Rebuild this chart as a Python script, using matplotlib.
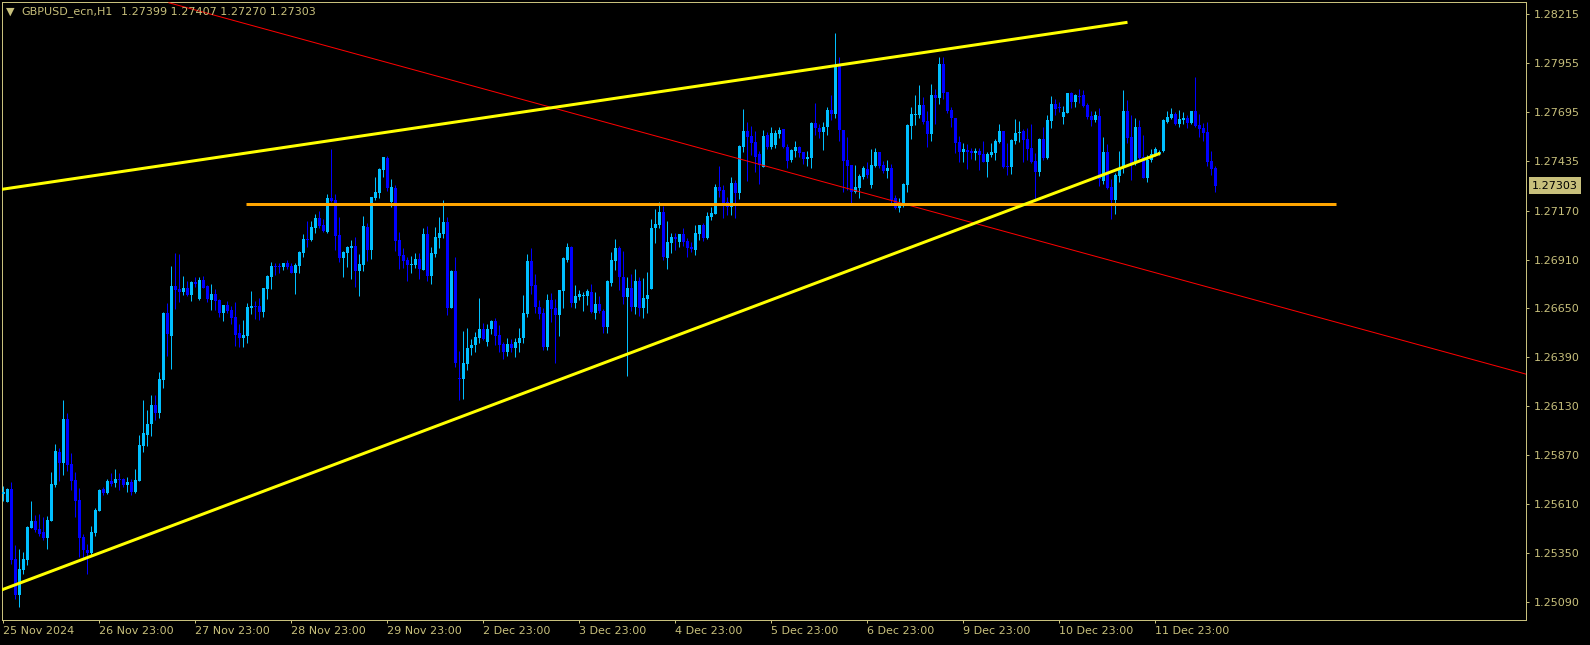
import numpy as np
import matplotlib
matplotlib.use("Agg")
import matplotlib.pyplot as plt
import matplotlib.transforms as mtransforms

# hourly GBPUSD bars, oldest first
opens = [
    1.25660, 1.25621, 1.25688, 1.25314, 1.25124, 1.25257, 1.25310, 1.25482, 1.25518, 1.25475,
    1.25459, 1.25429, 1.25518, 1.25709, 1.25887, 1.25828, 1.26061, 1.25821, 1.25736, 1.25630,
    1.25431, 1.25367, 1.25351, 1.25456, 1.25573, 1.25688, 1.25669, 1.25731, 1.25720, 1.25741,
    1.25741, 1.25709, 1.25727, 1.25672, 1.25733, 1.25919, 1.25976, 1.26034, 1.26135, 1.26094,
    1.26268, 1.26623, 1.26502, 1.26769, 1.26751, 1.26737, 1.26756, 1.26721, 1.26792, 1.26699,
    1.26800, 1.26769, 1.26694, 1.26726, 1.26694, 1.26627, 1.26667, 1.26641, 1.26602, 1.26517,
    1.26494, 1.26502, 1.26653, 1.26662, 1.26662, 1.26632, 1.26753, 1.26818, 1.26875, 1.26875,
    1.26871, 1.26894, 1.26875, 1.26839, 1.26877, 1.26946, 1.27020, 1.27013, 1.27079, 1.27130,
    1.27093, 1.27056, 1.27235, 1.27226, 1.27038, 1.26919, 1.26946, 1.26973, 1.26981, 1.26848,
    1.26880, 1.27081, 1.26960, 1.27239, 1.27265, 1.27386, 1.27452, 1.27216, 1.27288, 1.27013,
    1.26932, 1.26907, 1.26880, 1.26880, 1.26912, 1.26854, 1.27045, 1.26822, 1.26939, 1.27024,
    1.27045, 1.27109, 1.26653, 1.26848, 1.26282, 1.26274, 1.26355, 1.26440, 1.26453, 1.26494,
    1.26540, 1.26472, 1.26538, 1.26582, 1.26506, 1.26460, 1.26417, 1.26463, 1.26440, 1.26467,
    1.26494, 1.26620, 1.26902, 1.26772, 1.26659, 1.26623, 1.26446, 1.26694, 1.26653, 1.26614,
    1.26744, 1.26907, 1.26978, 1.26676, 1.26712, 1.26717, 1.26715, 1.26738, 1.26628, 1.26673,
    1.26637, 1.26552, 1.26786, 1.26903, 1.26971, 1.26818, 1.26712, 1.26760, 1.26659, 1.26795,
    1.26653, 1.26699, 1.26753, 1.27079, 1.27095, 1.27162, 1.26919, 1.26999, 1.27028, 1.27004,
    1.27045, 1.27008, 1.26978, 1.26960, 1.27045, 1.27091, 1.27026, 1.27138, 1.27152, 1.27294,
    1.27279, 1.27217, 1.27191, 1.27315, 1.27264, 1.27510, 1.27593, 1.27567, 1.27535, 1.27469,
    1.27404, 1.27572, 1.27510, 1.27519, 1.27577, 1.27604, 1.27510, 1.27439, 1.27487, 1.27510,
    1.27482, 1.27444, 1.27451, 1.27638, 1.27609, 1.27586, 1.27616, 1.27705, 1.27682, 1.27945,
    1.27599, 1.27439, 1.27412, 1.27271, 1.27292, 1.27350, 1.27391, 1.27306, 1.27407, 1.27483,
    1.27412, 1.27382, 1.27398, 1.27235, 1.27182, 1.27200, 1.27306, 1.27620, 1.27679, 1.27679,
    1.27732, 1.27647, 1.27578, 1.27785, 1.27771, 1.27950, 1.27801, 1.27705, 1.27664, 1.27535,
    1.27483, 1.27492, 1.27489, 1.27478, 1.27487, 1.27471, 1.27430, 1.27466, 1.27478, 1.27537,
    1.27595, 1.27409, 1.27404, 1.27542, 1.27581, 1.27593, 1.27549, 1.27501, 1.27434, 1.27375,
    1.27551, 1.27448, 1.27648, 1.27737, 1.27719, 1.27670, 1.27691, 1.27796, 1.27750, 1.27780,
    1.27785, 1.27732, 1.27675, 1.27652, 1.27673, 1.27327, 1.27480, 1.27297, 1.27226, 1.27354,
    1.27395, 1.27700, 1.27562, 1.27421, 1.27615, 1.27455, 1.27345, 1.27439, 1.27466, 1.27473,
    1.27487, 1.27643, 1.27664, 1.27684, 1.27631, 1.27652, 1.27664, 1.27634, 1.27700, 1.27625,
    1.27608, 1.27588, 1.27434, 1.27399,
]
highs = [
    1.25704, 1.25692, 1.25724, 1.25390, 1.25369, 1.25353, 1.25493, 1.25624, 1.25550, 1.25555,
    1.25539, 1.25544, 1.25779, 1.25928, 1.25908, 1.26162, 1.26093, 1.25878, 1.25777, 1.25692,
    1.25452, 1.25399, 1.25491, 1.25589, 1.25688, 1.25697, 1.25740, 1.25772, 1.25795, 1.25772,
    1.25745, 1.25752, 1.25740, 1.25795, 1.25974, 1.26162, 1.26109, 1.26188, 1.26188, 1.26311,
    1.26632, 1.26676, 1.26875, 1.26942, 1.26939, 1.26822, 1.26797, 1.26797, 1.26815, 1.26815,
    1.26822, 1.26774, 1.26779, 1.26751, 1.26698, 1.26667, 1.26689, 1.26662, 1.26683, 1.26566,
    1.26588, 1.26676, 1.26740, 1.26689, 1.26705, 1.26760, 1.26825, 1.26896, 1.26894, 1.26894,
    1.26894, 1.26907, 1.26894, 1.26894, 1.26957, 1.27045, 1.27114, 1.27114, 1.27152, 1.27169,
    1.27125, 1.27256, 1.27498, 1.27258, 1.27134, 1.26955, 1.26981, 1.27013, 1.27029, 1.26939,
    1.27141, 1.27102, 1.27242, 1.27350, 1.27398, 1.27457, 1.27462, 1.27338, 1.27304, 1.27054,
    1.26973, 1.26925, 1.26928, 1.26942, 1.26942, 1.27075, 1.27088, 1.26978, 1.27081, 1.27136,
    1.27226, 1.27134, 1.26854, 1.26925, 1.26423, 1.26529, 1.26547, 1.26486, 1.26522, 1.26706,
    1.26570, 1.26566, 1.26588, 1.26600, 1.26561, 1.26472, 1.26490, 1.26485, 1.26492, 1.26547,
    1.26721, 1.26939, 1.26973, 1.26832, 1.26694, 1.26650, 1.26726, 1.26733, 1.26698, 1.26747,
    1.26925, 1.26999, 1.26983, 1.26774, 1.26747, 1.26738, 1.26751, 1.26779, 1.26738, 1.26715,
    1.26644, 1.26800, 1.26948, 1.27019, 1.26983, 1.26957, 1.26818, 1.26832, 1.26859, 1.26815,
    1.26809, 1.26841, 1.27125, 1.27178, 1.27216, 1.27194, 1.27114, 1.27052, 1.27049, 1.27045,
    1.27079, 1.27022, 1.27004, 1.27091, 1.27091, 1.27102, 1.27164, 1.27191, 1.27311, 1.27407,
    1.27304, 1.27244, 1.27347, 1.27333, 1.27519, 1.27709, 1.27640, 1.27620, 1.27593, 1.27489,
    1.27599, 1.27590, 1.27613, 1.27599, 1.27615, 1.27604, 1.27524, 1.27498, 1.27540, 1.27514,
    1.27483, 1.27487, 1.27643, 1.27744, 1.27632, 1.27643, 1.27721, 1.27785, 1.28117, 1.27989,
    1.27599, 1.27561, 1.27412, 1.27412, 1.27365, 1.27407, 1.27430, 1.27498, 1.27505, 1.27483,
    1.27434, 1.27439, 1.27416, 1.27253, 1.27235, 1.27315, 1.27632, 1.27721, 1.27783, 1.27838,
    1.27776, 1.27702, 1.27844, 1.27815, 1.27986, 1.27986, 1.27801, 1.27719, 1.27664, 1.27567,
    1.27528, 1.27523, 1.27501, 1.27501, 1.27501, 1.27540, 1.27480, 1.27528, 1.27549, 1.27631,
    1.27595, 1.27531, 1.27549, 1.27657, 1.27648, 1.27604, 1.27611, 1.27631, 1.27475, 1.27554,
    1.27613, 1.27679, 1.27780, 1.27766, 1.27746, 1.27727, 1.27796, 1.27803, 1.27792, 1.27817,
    1.27810, 1.27741, 1.27700, 1.27700, 1.27714, 1.27562, 1.27523, 1.27336, 1.27372, 1.27487,
    1.27812, 1.27758, 1.27679, 1.27661, 1.27652, 1.27572, 1.27466, 1.27498, 1.27508, 1.27492,
    1.27657, 1.27700, 1.27714, 1.27696, 1.27705, 1.27696, 1.27679, 1.27700, 1.27881, 1.27686,
    1.27634, 1.27643, 1.27487, 1.27407,
]
lows = [
    1.25626, 1.25619, 1.25289, 1.25106, 1.25062, 1.25236, 1.25284, 1.25482, 1.25461, 1.25438,
    1.25417, 1.25369, 1.25518, 1.25697, 1.25731, 1.25763, 1.25784, 1.25683, 1.25541, 1.25328,
    1.25319, 1.25236, 1.25332, 1.25438, 1.25571, 1.25656, 1.25660, 1.25704, 1.25701, 1.25683,
    1.25701, 1.25674, 1.25656, 1.25670, 1.25733, 1.25887, 1.25919, 1.25972, 1.26055, 1.26068,
    1.26227, 1.26396, 1.26329, 1.26644, 1.26685, 1.26719, 1.26717, 1.26690, 1.26765, 1.26694,
    1.26756, 1.26685, 1.26641, 1.26641, 1.26605, 1.26584, 1.26627, 1.26566, 1.26451, 1.26446,
    1.26446, 1.26467, 1.26620, 1.26591, 1.26588, 1.26605, 1.26699, 1.26753, 1.26827, 1.26836,
    1.26854, 1.26857, 1.26836, 1.26726, 1.26839, 1.26921, 1.26978, 1.27008, 1.27052, 1.27075,
    1.27058, 1.27052, 1.27217, 1.26960, 1.26898, 1.26818, 1.26871, 1.26808, 1.26765, 1.26717,
    1.26850, 1.26903, 1.26914, 1.27226, 1.27239, 1.27350, 1.27274, 1.27191, 1.26957, 1.26859,
    1.26863, 1.26797, 1.26839, 1.26863, 1.26804, 1.26854, 1.26797, 1.26779, 1.26925, 1.26973,
    1.27026, 1.26614, 1.26650, 1.26336, 1.26162, 1.26167, 1.26321, 1.26401, 1.26417, 1.26467,
    1.26481, 1.26449, 1.26513, 1.26455, 1.26419, 1.26378, 1.26396, 1.26419, 1.26392, 1.26419,
    1.26467, 1.26605, 1.26726, 1.26628, 1.26596, 1.26428, 1.26428, 1.26579, 1.26361, 1.26504,
    1.26650, 1.26898, 1.26659, 1.26653, 1.26694, 1.26637, 1.26667, 1.26623, 1.26596, 1.26627,
    1.26517, 1.26517, 1.26770, 1.26854, 1.26747, 1.26673, 1.26290, 1.26637, 1.26618, 1.26609,
    1.26600, 1.26623, 1.26753, 1.26999, 1.27075, 1.26907, 1.26861, 1.26946, 1.26960, 1.26978,
    1.26983, 1.26925, 1.26951, 1.26934, 1.27013, 1.27008, 1.27020, 1.27120, 1.27152, 1.27244,
    1.27132, 1.27146, 1.27146, 1.27132, 1.27233, 1.27483, 1.27327, 1.27466, 1.27373, 1.27311,
    1.27404, 1.27498, 1.27496, 1.27501, 1.27554, 1.27505, 1.27395, 1.27428, 1.27457, 1.27457,
    1.27416, 1.27407, 1.27398, 1.27572, 1.27554, 1.27492, 1.27572, 1.27652, 1.27664, 1.27542,
    1.27271, 1.27279, 1.27212, 1.27262, 1.27235, 1.27338, 1.27342, 1.27292, 1.27404, 1.27395,
    1.27372, 1.27345, 1.27200, 1.27177, 1.27164, 1.27191, 1.27271, 1.27551, 1.27625, 1.27661,
    1.27629, 1.27510, 1.27542, 1.27631, 1.27737, 1.27762, 1.27687, 1.27613, 1.27478, 1.27427,
    1.27428, 1.27391, 1.27444, 1.27439, 1.27386, 1.27427, 1.27350, 1.27457, 1.27439, 1.27528,
    1.27395, 1.27359, 1.27365, 1.27524, 1.27537, 1.27430, 1.27439, 1.27421, 1.27226, 1.27354,
    1.27439, 1.27443, 1.27609, 1.27680, 1.27696, 1.27631, 1.27691, 1.27714, 1.27723, 1.27741,
    1.27723, 1.27656, 1.27620, 1.27643, 1.27301, 1.27310, 1.27285, 1.27125, 1.27154, 1.27324,
    1.27372, 1.27528, 1.27333, 1.27413, 1.27430, 1.27342, 1.27322, 1.27430, 1.27462, 1.27466,
    1.27480, 1.27634, 1.27656, 1.27625, 1.27617, 1.27631, 1.27608, 1.27633, 1.27617, 1.27563,
    1.27540, 1.27409, 1.27359, 1.27270,
]
closes = [
    1.25674, 1.25688, 1.25310, 1.25124, 1.25262, 1.25316, 1.25488, 1.25518, 1.25473, 1.25452,
    1.25429, 1.25523, 1.25715, 1.25892, 1.25828, 1.26061, 1.25816, 1.25731, 1.25624, 1.25429,
    1.25367, 1.25346, 1.25459, 1.25576, 1.25683, 1.25669, 1.25731, 1.25718, 1.25741, 1.25738,
    1.25709, 1.25725, 1.25674, 1.25736, 1.25922, 1.25986, 1.26034, 1.26135, 1.26094, 1.26274,
    1.26627, 1.26513, 1.26769, 1.26747, 1.26737, 1.26761, 1.26721, 1.26790, 1.26779, 1.26800,
    1.26761, 1.26698, 1.26726, 1.26690, 1.26623, 1.26667, 1.26635, 1.26600, 1.26508, 1.26494,
    1.26508, 1.26655, 1.26662, 1.26657, 1.26632, 1.26756, 1.26822, 1.26875, 1.26868, 1.26868,
    1.26894, 1.26871, 1.26839, 1.26880, 1.26949, 1.27017, 1.27013, 1.27081, 1.27130, 1.27088,
    1.27061, 1.27235, 1.27221, 1.27035, 1.26919, 1.26949, 1.26978, 1.26981, 1.26848, 1.26886,
    1.27088, 1.26960, 1.27242, 1.27269, 1.27391, 1.27453, 1.27292, 1.27295, 1.27010, 1.26930,
    1.26902, 1.26879, 1.26886, 1.26912, 1.26859, 1.27045, 1.26822, 1.26942, 1.27028, 1.27051,
    1.27109, 1.26653, 1.26850, 1.26361, 1.26272, 1.26361, 1.26440, 1.26456, 1.26499, 1.26540,
    1.26485, 1.26540, 1.26582, 1.26504, 1.26455, 1.26419, 1.26460, 1.26440, 1.26471, 1.26494,
    1.26627, 1.26902, 1.26770, 1.26655, 1.26620, 1.26446, 1.26694, 1.26646, 1.26614, 1.26747,
    1.26919, 1.26978, 1.26676, 1.26715, 1.26728, 1.26721, 1.26742, 1.26632, 1.26673, 1.26637,
    1.26552, 1.26795, 1.26907, 1.26971, 1.26815, 1.26712, 1.26760, 1.26659, 1.26795, 1.26653,
    1.26703, 1.26721, 1.27079, 1.27099, 1.27162, 1.26925, 1.27001, 1.27028, 1.27017, 1.27045,
    1.27004, 1.26973, 1.26964, 1.27049, 1.27091, 1.27026, 1.27141, 1.27155, 1.27294, 1.27274,
    1.27209, 1.27191, 1.27315, 1.27262, 1.27514, 1.27593, 1.27563, 1.27531, 1.27457, 1.27412,
    1.27567, 1.27510, 1.27585, 1.27585, 1.27599, 1.27510, 1.27436, 1.27492, 1.27510, 1.27478,
    1.27444, 1.27455, 1.27638, 1.27608, 1.27586, 1.27616, 1.27705, 1.27684, 1.27945, 1.27599,
    1.27436, 1.27407, 1.27271, 1.27295, 1.27354, 1.27395, 1.27359, 1.27412, 1.27483, 1.27407,
    1.27382, 1.27398, 1.27226, 1.27182, 1.27200, 1.27313, 1.27625, 1.27684, 1.27684, 1.27732,
    1.27643, 1.27578, 1.27785, 1.27771, 1.27950, 1.27797, 1.27700, 1.27664, 1.27528, 1.27483,
    1.27498, 1.27483, 1.27478, 1.27489, 1.27466, 1.27430, 1.27471, 1.27483, 1.27542, 1.27595,
    1.27404, 1.27400, 1.27546, 1.27585, 1.27590, 1.27546, 1.27498, 1.27430, 1.27375, 1.27551,
    1.27448, 1.27652, 1.27737, 1.27711, 1.27716, 1.27693, 1.27796, 1.27750, 1.27785, 1.27776,
    1.27728, 1.27670, 1.27652, 1.27679, 1.27336, 1.27480, 1.27292, 1.27226, 1.27359, 1.27398,
    1.27700, 1.27558, 1.27421, 1.27615, 1.27452, 1.27345, 1.27439, 1.27469, 1.27498, 1.27480,
    1.27652, 1.27668, 1.27684, 1.27631, 1.27657, 1.27661, 1.27638, 1.27700, 1.27620, 1.27604,
    1.27585, 1.27427, 1.27391, 1.27303,
]

# axis labels
date_ticks = [0, 24, 48, 72, 96, 120, 144, 168, 192, 216, 240, 264, 288]
date_labels = ["25 Nov 2024", "26 Nov 23:00", "27 Nov 23:00", "28 Nov 23:00",
               "29 Nov 23:00", "2 Dec 23:00", "3 Dec 23:00", "4 Dec 23:00",
               "5 Dec 23:00", "6 Dec 23:00", "9 Dec 23:00", "10 Dec 23:00",
               "11 Dec 23:00"]
price_ticks = [1.28215, 1.27955, 1.27695, 1.27435, 1.27170, 1.26910, 1.26650,
               1.26390, 1.26130, 1.25870, 1.25610, 1.25350, 1.25090]

# drawn objects: (bar positions, prices)
upper_channel = ([-0.8, 281.05], [1.27282, 1.28172])
support_line = ([-0.8, 289.2], [1.25149, 1.27475])
resistance_level = ([60.7, 333.2], [1.27206, 1.27206])
down_trend = ([41.4, 380.7], [1.28276, 1.26300])

symbol = "GBPUSD_ecn,H1"
last_bar = "1.27399 1.27407 1.27270 1.27303"
last_price = 1.27303

fg = "#c8c07c"
up_col = "#00bfff"
down_col = "#0000ff"
px = 72 / 100  # one pixel in points

o = np.array(opens)
h = np.array(highs)
l = np.array(lows)
c = np.array(closes)
x = np.arange(len(o))
colors = np.where(c >= o, up_col, down_col)

fig = plt.figure(figsize=(15.9, 6.45), dpi=100, facecolor="black")
ax = fig.add_axes([2 / 1590, 25 / 645, 1524 / 1590, 618 / 645])
ax.set_facecolor("black")

ax.vlines(x, l, h, colors=colors, linewidth=px, zorder=2)
ax.bar(x, np.abs(c - o), bottom=np.minimum(o, c), width=0.75, color=colors,
       linewidth=0, zorder=3)

ax.plot(*down_trend, color="#ff0000", lw=px, zorder=4)
ax.plot(*resistance_level, color="#ffa500", lw=3 * px, zorder=5, solid_capstyle="butt")
ax.plot(*upper_channel, color="#ffff00", lw=3 * px, zorder=5, solid_capstyle="butt")
ax.plot(*support_line, color="#ffff00", lw=3 * px, zorder=5, solid_capstyle="butt")

ax.set_xlim(-0.325, 380.675)
ax.set_ylim(1.24992, 1.28280)

for s in ax.spines.values():
    s.set_color(fg)
    s.set_linewidth(px)

ax.yaxis.tick_right()
ax.set_yticks(price_ticks)
ax.set_yticklabels([f"{p:.5f}" for p in price_ticks])
ax.tick_params(axis="y", colors=fg, labelsize=8, length=3 * px, width=px, pad=3.4)
ax.set_xticks(date_ticks)
ax.set_xticklabels(date_labels, ha="left")
ax.tick_params(axis="x", colors=fg, labelsize=8, length=3 * px, width=px, pad=2)

# current price tag on the scale
trans = mtransforms.blended_transform_factory(ax.transAxes, ax.transData)
ax.text(1 + 6 / 1524, last_price, f"{last_price:.5f}", transform=trans,
        ha="left", va="center", fontsize=8, color="black", zorder=6, clip_on=False,
        bbox=dict(boxstyle="square,pad=0.3", fc=fg, ec="none"))

fig.text(6 / 1590, 1 - 12 / 645, "\u25bc", color=fg, fontsize=8, va="center", ha="left")
fig.text(21 / 1590, 1 - 12 / 645, symbol, color=fg, fontsize=8, va="center", ha="left")
fig.text(121 / 1590, 1 - 12 / 645, last_bar, color=fg, fontsize=8, va="center", ha="left")

fig.savefig("out.png", dpi=100, facecolor="black")
